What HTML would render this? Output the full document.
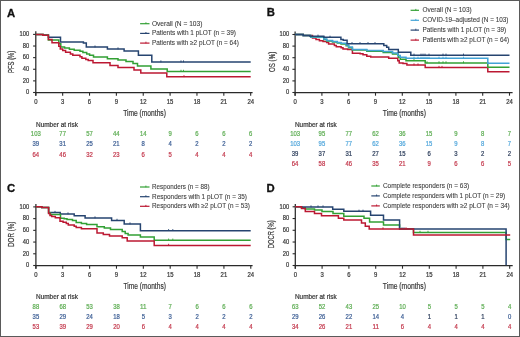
<!DOCTYPE html><html><head><meta charset="utf-8"><style>html,body{margin:0;padding:0;background:#fff;}svg{display:block;will-change:transform;}</style></head><body>
<svg width="520" height="337" viewBox="0 0 520 337" font-family='"Liberation Sans", sans-serif'>
<rect x="0" y="0" width="520" height="337" fill="#fff"/>
<text x="6.90" y="16.50" font-size="11.3" fill="#111" text-anchor="start" font-weight="bold" stroke="#111" stroke-width="0.3">A</text>
<path d="M35.80,31.20V95.70M35.80,92.50H252.60" stroke="#2a2a2a" stroke-width="1.25" fill="none"/>
<path d="M33.10,92.50H35.80" stroke="#2a2a2a" stroke-width="1.1"/>
<text x="29.20" y="94.30" font-size="6.4" fill="#3a3a3a" text-anchor="end" font-weight="normal" textLength="3.2" lengthAdjust="spacingAndGlyphs" stroke="#3a3a3a" stroke-width="0.22">0</text>
<path d="M33.10,80.88H35.80" stroke="#2a2a2a" stroke-width="1.1"/>
<text x="29.20" y="82.68" font-size="6.4" fill="#3a3a3a" text-anchor="end" font-weight="normal" textLength="6.4" lengthAdjust="spacingAndGlyphs" stroke="#3a3a3a" stroke-width="0.22">20</text>
<path d="M33.10,69.26H35.80" stroke="#2a2a2a" stroke-width="1.1"/>
<text x="29.20" y="71.06" font-size="6.4" fill="#3a3a3a" text-anchor="end" font-weight="normal" textLength="6.4" lengthAdjust="spacingAndGlyphs" stroke="#3a3a3a" stroke-width="0.22">40</text>
<path d="M33.10,57.64H35.80" stroke="#2a2a2a" stroke-width="1.1"/>
<text x="29.20" y="59.44" font-size="6.4" fill="#3a3a3a" text-anchor="end" font-weight="normal" textLength="6.4" lengthAdjust="spacingAndGlyphs" stroke="#3a3a3a" stroke-width="0.22">60</text>
<path d="M33.10,46.02H35.80" stroke="#2a2a2a" stroke-width="1.1"/>
<text x="29.20" y="47.82" font-size="6.4" fill="#3a3a3a" text-anchor="end" font-weight="normal" textLength="6.4" lengthAdjust="spacingAndGlyphs" stroke="#3a3a3a" stroke-width="0.22">80</text>
<path d="M33.10,34.40H35.80" stroke="#2a2a2a" stroke-width="1.1"/>
<text x="29.20" y="36.20" font-size="6.4" fill="#3a3a3a" text-anchor="end" font-weight="normal" textLength="9.600000000000001" lengthAdjust="spacingAndGlyphs" stroke="#3a3a3a" stroke-width="0.22">100</text>
<path d="M35.80,92.50V95.70" stroke="#2a2a2a" stroke-width="1.1"/>
<text x="35.80" y="104.00" font-size="6.4" fill="#3a3a3a" text-anchor="middle" font-weight="normal" textLength="3.3" lengthAdjust="spacingAndGlyphs" stroke="#3a3a3a" stroke-width="0.22">0</text>
<path d="M62.66,92.50V95.70" stroke="#2a2a2a" stroke-width="1.1"/>
<text x="62.66" y="104.00" font-size="6.4" fill="#3a3a3a" text-anchor="middle" font-weight="normal" textLength="3.3" lengthAdjust="spacingAndGlyphs" stroke="#3a3a3a" stroke-width="0.22">3</text>
<path d="M89.52,92.50V95.70" stroke="#2a2a2a" stroke-width="1.1"/>
<text x="89.52" y="104.00" font-size="6.4" fill="#3a3a3a" text-anchor="middle" font-weight="normal" textLength="3.3" lengthAdjust="spacingAndGlyphs" stroke="#3a3a3a" stroke-width="0.22">6</text>
<path d="M116.38,92.50V95.70" stroke="#2a2a2a" stroke-width="1.1"/>
<text x="116.38" y="104.00" font-size="6.4" fill="#3a3a3a" text-anchor="middle" font-weight="normal" textLength="3.3" lengthAdjust="spacingAndGlyphs" stroke="#3a3a3a" stroke-width="0.22">9</text>
<path d="M143.24,92.50V95.70" stroke="#2a2a2a" stroke-width="1.1"/>
<text x="143.24" y="104.00" font-size="6.4" fill="#3a3a3a" text-anchor="middle" font-weight="normal" textLength="6.6" lengthAdjust="spacingAndGlyphs" stroke="#3a3a3a" stroke-width="0.22">12</text>
<path d="M170.10,92.50V95.70" stroke="#2a2a2a" stroke-width="1.1"/>
<text x="170.10" y="104.00" font-size="6.4" fill="#3a3a3a" text-anchor="middle" font-weight="normal" textLength="6.6" lengthAdjust="spacingAndGlyphs" stroke="#3a3a3a" stroke-width="0.22">15</text>
<path d="M196.96,92.50V95.70" stroke="#2a2a2a" stroke-width="1.1"/>
<text x="196.96" y="104.00" font-size="6.4" fill="#3a3a3a" text-anchor="middle" font-weight="normal" textLength="6.6" lengthAdjust="spacingAndGlyphs" stroke="#3a3a3a" stroke-width="0.22">18</text>
<path d="M223.82,92.50V95.70" stroke="#2a2a2a" stroke-width="1.1"/>
<text x="223.82" y="104.00" font-size="6.4" fill="#3a3a3a" text-anchor="middle" font-weight="normal" textLength="6.6" lengthAdjust="spacingAndGlyphs" stroke="#3a3a3a" stroke-width="0.22">21</text>
<path d="M250.68,92.50V95.70" stroke="#2a2a2a" stroke-width="1.1"/>
<text x="250.68" y="104.00" font-size="6.4" fill="#3a3a3a" text-anchor="middle" font-weight="normal" textLength="6.6" lengthAdjust="spacingAndGlyphs" stroke="#3a3a3a" stroke-width="0.22">24</text>
<text x="144.55" y="115.90" font-size="8.9" fill="#3a3a3a" text-anchor="middle" font-weight="normal" textLength="42.7" lengthAdjust="spacingAndGlyphs" stroke="#3a3a3a" stroke-width="0.22">Time (months)</text>
<text transform="translate(14.30,61.85) rotate(-90)" x="0" y="0" font-size="8.8" fill="#3a3a3a" stroke="#3a3a3a" stroke-width="0.22" text-anchor="middle" textLength="22.3" lengthAdjust="spacingAndGlyphs">PFS (%)</text>
<path d="M140.10,23.70H149.50" stroke="#32a034" stroke-width="1.2"/>
<path d="M145.93,22.30V24.00" stroke="#32a034" stroke-width="0.9"/>
<text x="151.90" y="25.50" font-size="6.5" fill="#3a3a3a" text-anchor="start" font-weight="normal" textLength="50.5" lengthAdjust="spacingAndGlyphs" stroke="#3a3a3a" stroke-width="0.08">Overall (N = 103)</text>
<path d="M140.10,33.40H149.50" stroke="#264470" stroke-width="1.2"/>
<path d="M145.93,32.00V33.70" stroke="#264470" stroke-width="0.9"/>
<text x="151.90" y="35.20" font-size="6.5" fill="#3a3a3a" text-anchor="start" font-weight="normal" textLength="84.0" lengthAdjust="spacingAndGlyphs" stroke="#3a3a3a" stroke-width="0.08">Patients with 1 pLOT (n = 39)</text>
<path d="M140.10,43.10H149.50" stroke="#bc1832" stroke-width="1.2"/>
<path d="M145.93,41.70V43.40" stroke="#bc1832" stroke-width="0.9"/>
<text x="151.90" y="44.90" font-size="6.5" fill="#3a3a3a" text-anchor="start" font-weight="normal" textLength="87.0" lengthAdjust="spacingAndGlyphs" stroke="#3a3a3a" stroke-width="0.08">Patients with ≥2 pLOT (n = 64)</text>
<path d="M35.80,34.40H43.00V35.00H48.40V37.20H60.50V42.00H83.40V43.00H86.30V47.10H107.40V49.00H124.10V51.00H138.40V55.30H151.80V62.00H250.70" fill="none" stroke="#264470" stroke-width="1.5" stroke-linejoin="miter"/>
<path d="M95.00,45.50V47.40" stroke="#264470" stroke-width="0.9"/>
<path d="M118.00,47.40V49.30" stroke="#264470" stroke-width="0.9"/>
<path d="M160.90,60.40V62.30" stroke="#264470" stroke-width="0.9"/>
<path d="M181.00,60.40V62.30" stroke="#264470" stroke-width="0.9"/>
<path d="M183.50,60.40V62.30" stroke="#264470" stroke-width="0.9"/>
<path d="M35.80,34.40H43.00V35.20H48.40V40.00H58.80V43.80H60.80V47.10H64.60V48.10H69.40V49.30H74.20V50.30H80.00V51.30H82.90V52.40H86.70V53.90H89.60V55.30H93.50V57.00H107.40V58.70H118.00V60.10H126.00V61.40H133.00V63.60H137.50V66.10H150.90V68.90H167.20V71.40H250.70" fill="none" stroke="#32a034" stroke-width="1.5" stroke-linejoin="miter"/>
<path d="M181.00,69.80V71.70" stroke="#32a034" stroke-width="0.9"/>
<path d="M183.50,69.80V71.70" stroke="#32a034" stroke-width="0.9"/>
<path d="M35.80,34.40H43.00V35.20H48.40V39.40H52.00V42.70H58.80V46.20H60.30V49.10H62.70V50.50H65.60V52.20H70.40V53.90H72.80V55.30H80.00V56.80H81.90V58.20H85.80V59.60H88.20V60.60H93.00V62.80H110.00V65.40H118.00V67.40H134.00V70.10H140.80V72.90H166.80V76.80H250.70" fill="none" stroke="#bc1832" stroke-width="1.5" stroke-linejoin="miter"/>
<path d="M184.00,75.20V77.10" stroke="#bc1832" stroke-width="0.9"/>
<text x="36.00" y="126.80" font-size="6.6" fill="#3a3a3a" text-anchor="start" font-weight="normal" textLength="41.900000000000006" lengthAdjust="spacingAndGlyphs" stroke="#3a3a3a" stroke-width="0.22">Number at risk</text>
<text x="35.80" y="136.40" font-size="6.6" fill="#5fae55" text-anchor="middle" font-weight="normal" textLength="9.899999999999999" lengthAdjust="spacingAndGlyphs" stroke="#5fae55" stroke-width="0.22">103</text>
<text x="62.66" y="136.40" font-size="6.6" fill="#5fae55" text-anchor="middle" font-weight="normal" textLength="6.6" lengthAdjust="spacingAndGlyphs" stroke="#5fae55" stroke-width="0.22">77</text>
<text x="89.52" y="136.40" font-size="6.6" fill="#5fae55" text-anchor="middle" font-weight="normal" textLength="6.6" lengthAdjust="spacingAndGlyphs" stroke="#5fae55" stroke-width="0.22">57</text>
<text x="116.38" y="136.40" font-size="6.6" fill="#5fae55" text-anchor="middle" font-weight="normal" textLength="6.6" lengthAdjust="spacingAndGlyphs" stroke="#5fae55" stroke-width="0.22">44</text>
<text x="143.24" y="136.40" font-size="6.6" fill="#5fae55" text-anchor="middle" font-weight="normal" textLength="6.6" lengthAdjust="spacingAndGlyphs" stroke="#5fae55" stroke-width="0.22">14</text>
<text x="170.10" y="136.40" font-size="6.6" fill="#5fae55" text-anchor="middle" font-weight="normal" textLength="3.3" lengthAdjust="spacingAndGlyphs" stroke="#5fae55" stroke-width="0.22">9</text>
<text x="196.96" y="136.40" font-size="6.6" fill="#5fae55" text-anchor="middle" font-weight="normal" textLength="3.3" lengthAdjust="spacingAndGlyphs" stroke="#5fae55" stroke-width="0.22">6</text>
<text x="223.82" y="136.40" font-size="6.6" fill="#5fae55" text-anchor="middle" font-weight="normal" textLength="3.3" lengthAdjust="spacingAndGlyphs" stroke="#5fae55" stroke-width="0.22">6</text>
<text x="250.68" y="136.40" font-size="6.6" fill="#5fae55" text-anchor="middle" font-weight="normal" textLength="3.3" lengthAdjust="spacingAndGlyphs" stroke="#5fae55" stroke-width="0.22">6</text>
<text x="35.80" y="146.40" font-size="6.6" fill="#3d5f95" text-anchor="middle" font-weight="normal" textLength="6.6" lengthAdjust="spacingAndGlyphs" stroke="#3d5f95" stroke-width="0.22">39</text>
<text x="62.66" y="146.40" font-size="6.6" fill="#3d5f95" text-anchor="middle" font-weight="normal" textLength="6.6" lengthAdjust="spacingAndGlyphs" stroke="#3d5f95" stroke-width="0.22">31</text>
<text x="89.52" y="146.40" font-size="6.6" fill="#3d5f95" text-anchor="middle" font-weight="normal" textLength="6.6" lengthAdjust="spacingAndGlyphs" stroke="#3d5f95" stroke-width="0.22">25</text>
<text x="116.38" y="146.40" font-size="6.6" fill="#3d5f95" text-anchor="middle" font-weight="normal" textLength="6.6" lengthAdjust="spacingAndGlyphs" stroke="#3d5f95" stroke-width="0.22">21</text>
<text x="143.24" y="146.40" font-size="6.6" fill="#3d5f95" text-anchor="middle" font-weight="normal" textLength="3.3" lengthAdjust="spacingAndGlyphs" stroke="#3d5f95" stroke-width="0.22">8</text>
<text x="170.10" y="146.40" font-size="6.6" fill="#3d5f95" text-anchor="middle" font-weight="normal" textLength="3.3" lengthAdjust="spacingAndGlyphs" stroke="#3d5f95" stroke-width="0.22">4</text>
<text x="196.96" y="146.40" font-size="6.6" fill="#3d5f95" text-anchor="middle" font-weight="normal" textLength="3.3" lengthAdjust="spacingAndGlyphs" stroke="#3d5f95" stroke-width="0.22">2</text>
<text x="223.82" y="146.40" font-size="6.6" fill="#3d5f95" text-anchor="middle" font-weight="normal" textLength="3.3" lengthAdjust="spacingAndGlyphs" stroke="#3d5f95" stroke-width="0.22">2</text>
<text x="250.68" y="146.40" font-size="6.6" fill="#3d5f95" text-anchor="middle" font-weight="normal" textLength="3.3" lengthAdjust="spacingAndGlyphs" stroke="#3d5f95" stroke-width="0.22">2</text>
<text x="35.80" y="156.60" font-size="6.6" fill="#c43a4e" text-anchor="middle" font-weight="normal" textLength="6.6" lengthAdjust="spacingAndGlyphs" stroke="#c43a4e" stroke-width="0.22">64</text>
<text x="62.66" y="156.60" font-size="6.6" fill="#c43a4e" text-anchor="middle" font-weight="normal" textLength="6.6" lengthAdjust="spacingAndGlyphs" stroke="#c43a4e" stroke-width="0.22">46</text>
<text x="89.52" y="156.60" font-size="6.6" fill="#c43a4e" text-anchor="middle" font-weight="normal" textLength="6.6" lengthAdjust="spacingAndGlyphs" stroke="#c43a4e" stroke-width="0.22">32</text>
<text x="116.38" y="156.60" font-size="6.6" fill="#c43a4e" text-anchor="middle" font-weight="normal" textLength="6.6" lengthAdjust="spacingAndGlyphs" stroke="#c43a4e" stroke-width="0.22">23</text>
<text x="143.24" y="156.60" font-size="6.6" fill="#c43a4e" text-anchor="middle" font-weight="normal" textLength="3.3" lengthAdjust="spacingAndGlyphs" stroke="#c43a4e" stroke-width="0.22">6</text>
<text x="170.10" y="156.60" font-size="6.6" fill="#c43a4e" text-anchor="middle" font-weight="normal" textLength="3.3" lengthAdjust="spacingAndGlyphs" stroke="#c43a4e" stroke-width="0.22">5</text>
<text x="196.96" y="156.60" font-size="6.6" fill="#c43a4e" text-anchor="middle" font-weight="normal" textLength="3.3" lengthAdjust="spacingAndGlyphs" stroke="#c43a4e" stroke-width="0.22">4</text>
<text x="223.82" y="156.60" font-size="6.6" fill="#c43a4e" text-anchor="middle" font-weight="normal" textLength="3.3" lengthAdjust="spacingAndGlyphs" stroke="#c43a4e" stroke-width="0.22">4</text>
<text x="250.68" y="156.60" font-size="6.6" fill="#c43a4e" text-anchor="middle" font-weight="normal" textLength="3.3" lengthAdjust="spacingAndGlyphs" stroke="#c43a4e" stroke-width="0.22">4</text>
<text x="266.70" y="16.10" font-size="11.3" fill="#111" text-anchor="start" font-weight="bold" stroke="#111" stroke-width="0.3">B</text>
<path d="M295.10,31.60V95.70M295.10,92.50H512.60" stroke="#2a2a2a" stroke-width="1.25" fill="none"/>
<path d="M292.40,92.50H295.10" stroke="#2a2a2a" stroke-width="1.1"/>
<text x="289.10" y="94.30" font-size="6.4" fill="#3a3a3a" text-anchor="end" font-weight="normal" textLength="3.2" lengthAdjust="spacingAndGlyphs" stroke="#3a3a3a" stroke-width="0.22">0</text>
<path d="M292.40,80.90H295.10" stroke="#2a2a2a" stroke-width="1.1"/>
<text x="289.10" y="82.70" font-size="6.4" fill="#3a3a3a" text-anchor="end" font-weight="normal" textLength="6.4" lengthAdjust="spacingAndGlyphs" stroke="#3a3a3a" stroke-width="0.22">20</text>
<path d="M292.40,69.30H295.10" stroke="#2a2a2a" stroke-width="1.1"/>
<text x="289.10" y="71.10" font-size="6.4" fill="#3a3a3a" text-anchor="end" font-weight="normal" textLength="6.4" lengthAdjust="spacingAndGlyphs" stroke="#3a3a3a" stroke-width="0.22">40</text>
<path d="M292.40,57.70H295.10" stroke="#2a2a2a" stroke-width="1.1"/>
<text x="289.10" y="59.50" font-size="6.4" fill="#3a3a3a" text-anchor="end" font-weight="normal" textLength="6.4" lengthAdjust="spacingAndGlyphs" stroke="#3a3a3a" stroke-width="0.22">60</text>
<path d="M292.40,46.10H295.10" stroke="#2a2a2a" stroke-width="1.1"/>
<text x="289.10" y="47.90" font-size="6.4" fill="#3a3a3a" text-anchor="end" font-weight="normal" textLength="6.4" lengthAdjust="spacingAndGlyphs" stroke="#3a3a3a" stroke-width="0.22">80</text>
<path d="M292.40,34.50H295.10" stroke="#2a2a2a" stroke-width="1.1"/>
<text x="289.10" y="36.30" font-size="6.4" fill="#3a3a3a" text-anchor="end" font-weight="normal" textLength="9.600000000000001" lengthAdjust="spacingAndGlyphs" stroke="#3a3a3a" stroke-width="0.22">100</text>
<path d="M295.10,92.50V95.70" stroke="#2a2a2a" stroke-width="1.1"/>
<text x="295.10" y="104.00" font-size="6.4" fill="#3a3a3a" text-anchor="middle" font-weight="normal" textLength="3.3" lengthAdjust="spacingAndGlyphs" stroke="#3a3a3a" stroke-width="0.22">0</text>
<path d="M321.90,92.50V95.70" stroke="#2a2a2a" stroke-width="1.1"/>
<text x="321.90" y="104.00" font-size="6.4" fill="#3a3a3a" text-anchor="middle" font-weight="normal" textLength="3.3" lengthAdjust="spacingAndGlyphs" stroke="#3a3a3a" stroke-width="0.22">3</text>
<path d="M348.70,92.50V95.70" stroke="#2a2a2a" stroke-width="1.1"/>
<text x="348.70" y="104.00" font-size="6.4" fill="#3a3a3a" text-anchor="middle" font-weight="normal" textLength="3.3" lengthAdjust="spacingAndGlyphs" stroke="#3a3a3a" stroke-width="0.22">6</text>
<path d="M375.50,92.50V95.70" stroke="#2a2a2a" stroke-width="1.1"/>
<text x="375.50" y="104.00" font-size="6.4" fill="#3a3a3a" text-anchor="middle" font-weight="normal" textLength="3.3" lengthAdjust="spacingAndGlyphs" stroke="#3a3a3a" stroke-width="0.22">9</text>
<path d="M402.30,92.50V95.70" stroke="#2a2a2a" stroke-width="1.1"/>
<text x="402.30" y="104.00" font-size="6.4" fill="#3a3a3a" text-anchor="middle" font-weight="normal" textLength="6.6" lengthAdjust="spacingAndGlyphs" stroke="#3a3a3a" stroke-width="0.22">12</text>
<path d="M429.10,92.50V95.70" stroke="#2a2a2a" stroke-width="1.1"/>
<text x="429.10" y="104.00" font-size="6.4" fill="#3a3a3a" text-anchor="middle" font-weight="normal" textLength="6.6" lengthAdjust="spacingAndGlyphs" stroke="#3a3a3a" stroke-width="0.22">15</text>
<path d="M455.90,92.50V95.70" stroke="#2a2a2a" stroke-width="1.1"/>
<text x="455.90" y="104.00" font-size="6.4" fill="#3a3a3a" text-anchor="middle" font-weight="normal" textLength="6.6" lengthAdjust="spacingAndGlyphs" stroke="#3a3a3a" stroke-width="0.22">18</text>
<path d="M482.70,92.50V95.70" stroke="#2a2a2a" stroke-width="1.1"/>
<text x="482.70" y="104.00" font-size="6.4" fill="#3a3a3a" text-anchor="middle" font-weight="normal" textLength="6.6" lengthAdjust="spacingAndGlyphs" stroke="#3a3a3a" stroke-width="0.22">21</text>
<path d="M509.50,92.50V95.70" stroke="#2a2a2a" stroke-width="1.1"/>
<text x="509.50" y="104.00" font-size="6.4" fill="#3a3a3a" text-anchor="middle" font-weight="normal" textLength="6.6" lengthAdjust="spacingAndGlyphs" stroke="#3a3a3a" stroke-width="0.22">24</text>
<text x="404.35" y="116.20" font-size="8.9" fill="#3a3a3a" text-anchor="middle" font-weight="normal" textLength="43.099999999999966" lengthAdjust="spacingAndGlyphs" stroke="#3a3a3a" stroke-width="0.22">Time (months)</text>
<text transform="translate(274.50,61.90) rotate(-90)" x="0" y="0" font-size="8.8" fill="#3a3a3a" stroke="#3a3a3a" stroke-width="0.22" text-anchor="middle" textLength="20.3" lengthAdjust="spacingAndGlyphs">OS (%)</text>
<path d="M410.60,10.30H419.00" stroke="#32a034" stroke-width="1.2"/>
<path d="M415.81,8.90V10.60" stroke="#32a034" stroke-width="0.9"/>
<text x="422.50" y="12.10" font-size="6.5" fill="#3a3a3a" text-anchor="start" font-weight="normal" textLength="49.1" lengthAdjust="spacingAndGlyphs" stroke="#3a3a3a" stroke-width="0.08">Overall (N = 103)</text>
<path d="M410.60,20.30H419.00" stroke="#42a3d6" stroke-width="1.2"/>
<path d="M415.81,18.90V20.60" stroke="#42a3d6" stroke-width="0.9"/>
<text x="422.50" y="22.10" font-size="6.5" fill="#3a3a3a" text-anchor="start" font-weight="normal" textLength="86.0" lengthAdjust="spacingAndGlyphs" stroke="#3a3a3a" stroke-width="0.08">COVID-19–adjusted (N = 103)</text>
<path d="M410.60,30.10H419.00" stroke="#264470" stroke-width="1.2"/>
<path d="M415.81,28.70V30.40" stroke="#264470" stroke-width="0.9"/>
<text x="422.50" y="31.90" font-size="6.5" fill="#3a3a3a" text-anchor="start" font-weight="normal" textLength="83.7" lengthAdjust="spacingAndGlyphs" stroke="#3a3a3a" stroke-width="0.08">Patients with 1 pLOT (n = 39)</text>
<path d="M410.60,40.10H419.00" stroke="#bc1832" stroke-width="1.2"/>
<path d="M415.81,38.70V40.40" stroke="#bc1832" stroke-width="0.9"/>
<text x="422.50" y="41.90" font-size="6.5" fill="#3a3a3a" text-anchor="start" font-weight="normal" textLength="86.7" lengthAdjust="spacingAndGlyphs" stroke="#3a3a3a" stroke-width="0.08">Patients with ≥2 pLOT (n = 64)</text>
<path d="M295.10,34.50H303.20V35.50H312.50V38.10H316.00V39.50H319.40V40.70H323.00V41.50H326.70V42.50H328.60V43.90H334.40V45.40H336.30V46.80H341.10V47.80H343.00V49.00H347.60V49.50H352.40V53.30H360.10V53.80H363.00V54.80H366.80V56.20H370.70V57.00H388.70V58.30H397.80V60.70H399.20V63.10H403.00V63.60H406.90V65.00H425.20V67.50H487.80V71.70H509.50" fill="none" stroke="#bc1832" stroke-width="1.5" stroke-linejoin="miter"/>
<path d="M414.00,63.40V65.30" stroke="#bc1832" stroke-width="0.9"/>
<path d="M418.00,63.40V65.30" stroke="#bc1832" stroke-width="0.9"/>
<path d="M439.00,65.90V67.80" stroke="#bc1832" stroke-width="0.9"/>
<path d="M442.00,65.90V67.80" stroke="#bc1832" stroke-width="0.9"/>
<path d="M295.10,34.50H303.20V35.50H310.70V37.20H323.80V39.60H326.70V41.10H332.50V42.00H337.30V43.00H341.00V44.00H346.20V45.80H348.60V47.80H352.40V50.00H366.80V51.20H383.20V52.50H392.50V54.00H398.30V57.30H400.20V59.20H406.00V60.70H425.20V62.90H487.80V67.20H509.50" fill="none" stroke="#32a034" stroke-width="1.5" stroke-linejoin="miter"/>
<path d="M414.00,59.10V61.00" stroke="#32a034" stroke-width="0.9"/>
<path d="M427.00,61.30V63.20" stroke="#32a034" stroke-width="0.9"/>
<path d="M439.00,61.30V63.20" stroke="#32a034" stroke-width="0.9"/>
<path d="M443.00,61.30V63.20" stroke="#32a034" stroke-width="0.9"/>
<path d="M446.00,61.30V63.20" stroke="#32a034" stroke-width="0.9"/>
<path d="M463.50,61.30V63.20" stroke="#32a034" stroke-width="0.9"/>
<path d="M295.10,34.50H303.20V35.50H310.70V36.90H323.80V39.10H326.70V40.60H332.50V41.50H337.30V42.50H341.00V43.30H346.20V45.10H348.60V47.10H352.40V49.50H366.80V50.40H383.20V51.50H392.50V53.00H397.80V55.40H400.20V57.30H406.00V58.30H487.80V63.20H509.50" fill="none" stroke="#42a3d6" stroke-width="1.5" stroke-linejoin="miter"/>
<path d="M414.00,56.70V58.60" stroke="#42a3d6" stroke-width="0.9"/>
<path d="M418.00,56.70V58.60" stroke="#42a3d6" stroke-width="0.9"/>
<path d="M421.00,56.70V58.60" stroke="#42a3d6" stroke-width="0.9"/>
<path d="M423.00,56.70V58.60" stroke="#42a3d6" stroke-width="0.9"/>
<path d="M425.00,56.70V58.60" stroke="#42a3d6" stroke-width="0.9"/>
<path d="M427.00,56.70V58.60" stroke="#42a3d6" stroke-width="0.9"/>
<path d="M429.00,56.70V58.60" stroke="#42a3d6" stroke-width="0.9"/>
<path d="M439.00,56.70V58.60" stroke="#42a3d6" stroke-width="0.9"/>
<path d="M443.00,56.70V58.60" stroke="#42a3d6" stroke-width="0.9"/>
<path d="M446.00,56.70V58.60" stroke="#42a3d6" stroke-width="0.9"/>
<path d="M463.50,56.70V58.60" stroke="#42a3d6" stroke-width="0.9"/>
<path d="M295.10,34.50H303.20V35.50H310.00V36.20H323.80V37.30H340.90V39.40H343.30V40.30H347.10V43.70H383.80V45.50H386.70V47.20H388.70V49.60H398.30V52.30H410.80V55.20H509.50" fill="none" stroke="#264470" stroke-width="1.5" stroke-linejoin="miter"/>
<path d="M318.00,34.60V36.50" stroke="#264470" stroke-width="0.9"/>
<path d="M330.00,35.70V37.60" stroke="#264470" stroke-width="0.9"/>
<path d="M352.00,42.10V44.00" stroke="#264470" stroke-width="0.9"/>
<path d="M360.00,42.10V44.00" stroke="#264470" stroke-width="0.9"/>
<path d="M368.00,42.10V44.00" stroke="#264470" stroke-width="0.9"/>
<path d="M375.00,42.10V44.00" stroke="#264470" stroke-width="0.9"/>
<path d="M414.00,53.60V55.50" stroke="#264470" stroke-width="0.9"/>
<path d="M421.00,53.60V55.50" stroke="#264470" stroke-width="0.9"/>
<path d="M423.00,53.60V55.50" stroke="#264470" stroke-width="0.9"/>
<path d="M425.00,53.60V55.50" stroke="#264470" stroke-width="0.9"/>
<path d="M429.00,53.60V55.50" stroke="#264470" stroke-width="0.9"/>
<path d="M443.00,53.60V55.50" stroke="#264470" stroke-width="0.9"/>
<path d="M446.00,53.60V55.50" stroke="#264470" stroke-width="0.9"/>
<path d="M463.50,53.60V55.50" stroke="#264470" stroke-width="0.9"/>
<text x="295.00" y="126.80" font-size="6.6" fill="#3a3a3a" text-anchor="start" font-weight="normal" textLength="41.60000000000002" lengthAdjust="spacingAndGlyphs" stroke="#3a3a3a" stroke-width="0.22">Number at risk</text>
<text x="295.10" y="136.40" font-size="6.6" fill="#5fae55" text-anchor="middle" font-weight="normal" textLength="9.899999999999999" lengthAdjust="spacingAndGlyphs" stroke="#5fae55" stroke-width="0.22">103</text>
<text x="321.90" y="136.40" font-size="6.6" fill="#5fae55" text-anchor="middle" font-weight="normal" textLength="6.6" lengthAdjust="spacingAndGlyphs" stroke="#5fae55" stroke-width="0.22">95</text>
<text x="348.70" y="136.40" font-size="6.6" fill="#5fae55" text-anchor="middle" font-weight="normal" textLength="6.6" lengthAdjust="spacingAndGlyphs" stroke="#5fae55" stroke-width="0.22">77</text>
<text x="375.50" y="136.40" font-size="6.6" fill="#5fae55" text-anchor="middle" font-weight="normal" textLength="6.6" lengthAdjust="spacingAndGlyphs" stroke="#5fae55" stroke-width="0.22">62</text>
<text x="402.30" y="136.40" font-size="6.6" fill="#5fae55" text-anchor="middle" font-weight="normal" textLength="6.6" lengthAdjust="spacingAndGlyphs" stroke="#5fae55" stroke-width="0.22">36</text>
<text x="429.10" y="136.40" font-size="6.6" fill="#5fae55" text-anchor="middle" font-weight="normal" textLength="6.6" lengthAdjust="spacingAndGlyphs" stroke="#5fae55" stroke-width="0.22">15</text>
<text x="455.90" y="136.40" font-size="6.6" fill="#5fae55" text-anchor="middle" font-weight="normal" textLength="3.3" lengthAdjust="spacingAndGlyphs" stroke="#5fae55" stroke-width="0.22">9</text>
<text x="482.70" y="136.40" font-size="6.6" fill="#5fae55" text-anchor="middle" font-weight="normal" textLength="3.3" lengthAdjust="spacingAndGlyphs" stroke="#5fae55" stroke-width="0.22">8</text>
<text x="509.50" y="136.40" font-size="6.6" fill="#5fae55" text-anchor="middle" font-weight="normal" textLength="3.3" lengthAdjust="spacingAndGlyphs" stroke="#5fae55" stroke-width="0.22">7</text>
<text x="295.10" y="146.30" font-size="6.6" fill="#54a8dc" text-anchor="middle" font-weight="normal" textLength="9.899999999999999" lengthAdjust="spacingAndGlyphs" stroke="#54a8dc" stroke-width="0.22">103</text>
<text x="321.90" y="146.30" font-size="6.6" fill="#54a8dc" text-anchor="middle" font-weight="normal" textLength="6.6" lengthAdjust="spacingAndGlyphs" stroke="#54a8dc" stroke-width="0.22">95</text>
<text x="348.70" y="146.30" font-size="6.6" fill="#54a8dc" text-anchor="middle" font-weight="normal" textLength="6.6" lengthAdjust="spacingAndGlyphs" stroke="#54a8dc" stroke-width="0.22">77</text>
<text x="375.50" y="146.30" font-size="6.6" fill="#54a8dc" text-anchor="middle" font-weight="normal" textLength="6.6" lengthAdjust="spacingAndGlyphs" stroke="#54a8dc" stroke-width="0.22">62</text>
<text x="402.30" y="146.30" font-size="6.6" fill="#54a8dc" text-anchor="middle" font-weight="normal" textLength="6.6" lengthAdjust="spacingAndGlyphs" stroke="#54a8dc" stroke-width="0.22">36</text>
<text x="429.10" y="146.30" font-size="6.6" fill="#54a8dc" text-anchor="middle" font-weight="normal" textLength="6.6" lengthAdjust="spacingAndGlyphs" stroke="#54a8dc" stroke-width="0.22">15</text>
<text x="455.90" y="146.30" font-size="6.6" fill="#54a8dc" text-anchor="middle" font-weight="normal" textLength="3.3" lengthAdjust="spacingAndGlyphs" stroke="#54a8dc" stroke-width="0.22">9</text>
<text x="482.70" y="146.30" font-size="6.6" fill="#54a8dc" text-anchor="middle" font-weight="normal" textLength="3.3" lengthAdjust="spacingAndGlyphs" stroke="#54a8dc" stroke-width="0.22">8</text>
<text x="509.50" y="146.30" font-size="6.6" fill="#54a8dc" text-anchor="middle" font-weight="normal" textLength="3.3" lengthAdjust="spacingAndGlyphs" stroke="#54a8dc" stroke-width="0.22">7</text>
<text x="295.10" y="156.20" font-size="6.6" fill="#2d3e5c" text-anchor="middle" font-weight="normal" textLength="6.6" lengthAdjust="spacingAndGlyphs" stroke="#2d3e5c" stroke-width="0.22">39</text>
<text x="321.90" y="156.20" font-size="6.6" fill="#2d3e5c" text-anchor="middle" font-weight="normal" textLength="6.6" lengthAdjust="spacingAndGlyphs" stroke="#2d3e5c" stroke-width="0.22">37</text>
<text x="348.70" y="156.20" font-size="6.6" fill="#2d3e5c" text-anchor="middle" font-weight="normal" textLength="6.6" lengthAdjust="spacingAndGlyphs" stroke="#2d3e5c" stroke-width="0.22">31</text>
<text x="375.50" y="156.20" font-size="6.6" fill="#2d3e5c" text-anchor="middle" font-weight="normal" textLength="6.6" lengthAdjust="spacingAndGlyphs" stroke="#2d3e5c" stroke-width="0.22">27</text>
<text x="402.30" y="156.20" font-size="6.6" fill="#2d3e5c" text-anchor="middle" font-weight="normal" textLength="6.6" lengthAdjust="spacingAndGlyphs" stroke="#2d3e5c" stroke-width="0.22">15</text>
<text x="429.10" y="156.20" font-size="6.6" fill="#2d3e5c" text-anchor="middle" font-weight="normal" textLength="3.3" lengthAdjust="spacingAndGlyphs" stroke="#2d3e5c" stroke-width="0.22">6</text>
<text x="455.90" y="156.20" font-size="6.6" fill="#2d3e5c" text-anchor="middle" font-weight="normal" textLength="3.3" lengthAdjust="spacingAndGlyphs" stroke="#2d3e5c" stroke-width="0.22">3</text>
<text x="482.70" y="156.20" font-size="6.6" fill="#2d3e5c" text-anchor="middle" font-weight="normal" textLength="3.3" lengthAdjust="spacingAndGlyphs" stroke="#2d3e5c" stroke-width="0.22">2</text>
<text x="509.50" y="156.20" font-size="6.6" fill="#2d3e5c" text-anchor="middle" font-weight="normal" textLength="3.3" lengthAdjust="spacingAndGlyphs" stroke="#2d3e5c" stroke-width="0.22">2</text>
<text x="295.10" y="166.10" font-size="6.6" fill="#c43a4e" text-anchor="middle" font-weight="normal" textLength="6.6" lengthAdjust="spacingAndGlyphs" stroke="#c43a4e" stroke-width="0.22">64</text>
<text x="321.90" y="166.10" font-size="6.6" fill="#c43a4e" text-anchor="middle" font-weight="normal" textLength="6.6" lengthAdjust="spacingAndGlyphs" stroke="#c43a4e" stroke-width="0.22">58</text>
<text x="348.70" y="166.10" font-size="6.6" fill="#c43a4e" text-anchor="middle" font-weight="normal" textLength="6.6" lengthAdjust="spacingAndGlyphs" stroke="#c43a4e" stroke-width="0.22">46</text>
<text x="375.50" y="166.10" font-size="6.6" fill="#c43a4e" text-anchor="middle" font-weight="normal" textLength="6.6" lengthAdjust="spacingAndGlyphs" stroke="#c43a4e" stroke-width="0.22">35</text>
<text x="402.30" y="166.10" font-size="6.6" fill="#c43a4e" text-anchor="middle" font-weight="normal" textLength="6.6" lengthAdjust="spacingAndGlyphs" stroke="#c43a4e" stroke-width="0.22">21</text>
<text x="429.10" y="166.10" font-size="6.6" fill="#c43a4e" text-anchor="middle" font-weight="normal" textLength="3.3" lengthAdjust="spacingAndGlyphs" stroke="#c43a4e" stroke-width="0.22">9</text>
<text x="455.90" y="166.10" font-size="6.6" fill="#c43a4e" text-anchor="middle" font-weight="normal" textLength="3.3" lengthAdjust="spacingAndGlyphs" stroke="#c43a4e" stroke-width="0.22">6</text>
<text x="482.70" y="166.10" font-size="6.6" fill="#c43a4e" text-anchor="middle" font-weight="normal" textLength="3.3" lengthAdjust="spacingAndGlyphs" stroke="#c43a4e" stroke-width="0.22">6</text>
<text x="509.50" y="166.10" font-size="6.6" fill="#c43a4e" text-anchor="middle" font-weight="normal" textLength="3.3" lengthAdjust="spacingAndGlyphs" stroke="#c43a4e" stroke-width="0.22">5</text>
<text x="6.90" y="192.40" font-size="11.3" fill="#111" text-anchor="start" font-weight="bold" stroke="#111" stroke-width="0.3">C</text>
<path d="M35.90,204.00V268.70M35.90,265.50H252.60" stroke="#2a2a2a" stroke-width="1.25" fill="none"/>
<path d="M33.20,265.50H35.90" stroke="#2a2a2a" stroke-width="1.1"/>
<text x="29.20" y="267.30" font-size="6.4" fill="#3a3a3a" text-anchor="end" font-weight="normal" textLength="3.2" lengthAdjust="spacingAndGlyphs" stroke="#3a3a3a" stroke-width="0.22">0</text>
<path d="M33.20,253.78H35.90" stroke="#2a2a2a" stroke-width="1.1"/>
<text x="29.20" y="255.58" font-size="6.4" fill="#3a3a3a" text-anchor="end" font-weight="normal" textLength="6.4" lengthAdjust="spacingAndGlyphs" stroke="#3a3a3a" stroke-width="0.22">20</text>
<path d="M33.20,242.06H35.90" stroke="#2a2a2a" stroke-width="1.1"/>
<text x="29.20" y="243.86" font-size="6.4" fill="#3a3a3a" text-anchor="end" font-weight="normal" textLength="6.4" lengthAdjust="spacingAndGlyphs" stroke="#3a3a3a" stroke-width="0.22">40</text>
<path d="M33.20,230.34H35.90" stroke="#2a2a2a" stroke-width="1.1"/>
<text x="29.20" y="232.14" font-size="6.4" fill="#3a3a3a" text-anchor="end" font-weight="normal" textLength="6.4" lengthAdjust="spacingAndGlyphs" stroke="#3a3a3a" stroke-width="0.22">60</text>
<path d="M33.20,218.62H35.90" stroke="#2a2a2a" stroke-width="1.1"/>
<text x="29.20" y="220.42" font-size="6.4" fill="#3a3a3a" text-anchor="end" font-weight="normal" textLength="6.4" lengthAdjust="spacingAndGlyphs" stroke="#3a3a3a" stroke-width="0.22">80</text>
<path d="M33.20,206.90H35.90" stroke="#2a2a2a" stroke-width="1.1"/>
<text x="29.20" y="208.70" font-size="6.4" fill="#3a3a3a" text-anchor="end" font-weight="normal" textLength="9.600000000000001" lengthAdjust="spacingAndGlyphs" stroke="#3a3a3a" stroke-width="0.22">100</text>
<path d="M35.90,265.50V268.70" stroke="#2a2a2a" stroke-width="1.1"/>
<text x="35.90" y="277.20" font-size="6.4" fill="#3a3a3a" text-anchor="middle" font-weight="normal" textLength="3.3" lengthAdjust="spacingAndGlyphs" stroke="#3a3a3a" stroke-width="0.22">0</text>
<path d="M62.76,265.50V268.70" stroke="#2a2a2a" stroke-width="1.1"/>
<text x="62.76" y="277.20" font-size="6.4" fill="#3a3a3a" text-anchor="middle" font-weight="normal" textLength="3.3" lengthAdjust="spacingAndGlyphs" stroke="#3a3a3a" stroke-width="0.22">3</text>
<path d="M89.62,265.50V268.70" stroke="#2a2a2a" stroke-width="1.1"/>
<text x="89.62" y="277.20" font-size="6.4" fill="#3a3a3a" text-anchor="middle" font-weight="normal" textLength="3.3" lengthAdjust="spacingAndGlyphs" stroke="#3a3a3a" stroke-width="0.22">6</text>
<path d="M116.48,265.50V268.70" stroke="#2a2a2a" stroke-width="1.1"/>
<text x="116.48" y="277.20" font-size="6.4" fill="#3a3a3a" text-anchor="middle" font-weight="normal" textLength="3.3" lengthAdjust="spacingAndGlyphs" stroke="#3a3a3a" stroke-width="0.22">9</text>
<path d="M143.34,265.50V268.70" stroke="#2a2a2a" stroke-width="1.1"/>
<text x="143.34" y="277.20" font-size="6.4" fill="#3a3a3a" text-anchor="middle" font-weight="normal" textLength="6.6" lengthAdjust="spacingAndGlyphs" stroke="#3a3a3a" stroke-width="0.22">12</text>
<path d="M170.20,265.50V268.70" stroke="#2a2a2a" stroke-width="1.1"/>
<text x="170.20" y="277.20" font-size="6.4" fill="#3a3a3a" text-anchor="middle" font-weight="normal" textLength="6.6" lengthAdjust="spacingAndGlyphs" stroke="#3a3a3a" stroke-width="0.22">15</text>
<path d="M197.06,265.50V268.70" stroke="#2a2a2a" stroke-width="1.1"/>
<text x="197.06" y="277.20" font-size="6.4" fill="#3a3a3a" text-anchor="middle" font-weight="normal" textLength="6.6" lengthAdjust="spacingAndGlyphs" stroke="#3a3a3a" stroke-width="0.22">18</text>
<path d="M223.92,265.50V268.70" stroke="#2a2a2a" stroke-width="1.1"/>
<text x="223.92" y="277.20" font-size="6.4" fill="#3a3a3a" text-anchor="middle" font-weight="normal" textLength="6.6" lengthAdjust="spacingAndGlyphs" stroke="#3a3a3a" stroke-width="0.22">21</text>
<path d="M250.78,265.50V268.70" stroke="#2a2a2a" stroke-width="1.1"/>
<text x="250.78" y="277.20" font-size="6.4" fill="#3a3a3a" text-anchor="middle" font-weight="normal" textLength="6.6" lengthAdjust="spacingAndGlyphs" stroke="#3a3a3a" stroke-width="0.22">24</text>
<text x="144.70" y="288.90" font-size="8.9" fill="#3a3a3a" text-anchor="middle" font-weight="normal" textLength="42.400000000000006" lengthAdjust="spacingAndGlyphs" stroke="#3a3a3a" stroke-width="0.22">Time (months)</text>
<text transform="translate(14.20,234.30) rotate(-90)" x="0" y="0" font-size="8.8" fill="#3a3a3a" stroke="#3a3a3a" stroke-width="0.22" text-anchor="middle" textLength="25.5" lengthAdjust="spacingAndGlyphs">DOR (%)</text>
<path d="M140.00,187.00H149.50" stroke="#32a034" stroke-width="1.2"/>
<path d="M145.89,185.60V187.30" stroke="#32a034" stroke-width="0.9"/>
<text x="152.00" y="188.80" font-size="6.5" fill="#3a3a3a" text-anchor="start" font-weight="normal" textLength="57.5" lengthAdjust="spacingAndGlyphs" stroke="#3a3a3a" stroke-width="0.08">Responders (n = 88)</text>
<path d="M140.00,196.70H149.50" stroke="#264470" stroke-width="1.2"/>
<path d="M145.89,195.30V197.00" stroke="#264470" stroke-width="0.9"/>
<text x="152.00" y="198.50" font-size="6.5" fill="#3a3a3a" text-anchor="start" font-weight="normal" textLength="95.0" lengthAdjust="spacingAndGlyphs" stroke="#3a3a3a" stroke-width="0.08">Responders with 1 pLOT (n = 35)</text>
<path d="M140.00,206.30H149.50" stroke="#bc1832" stroke-width="1.2"/>
<path d="M145.89,204.90V206.60" stroke="#bc1832" stroke-width="0.9"/>
<text x="152.00" y="208.10" font-size="6.5" fill="#3a3a3a" text-anchor="start" font-weight="normal" textLength="98.0" lengthAdjust="spacingAndGlyphs" stroke="#3a3a3a" stroke-width="0.08">Responders with ≥2 pLOT (n = 53)</text>
<path d="M35.90,206.80H41.80V207.40H48.60V212.50H60.20V214.00H74.20V215.70H85.10V218.00H111.60V220.40H124.20V224.00H140.40V230.70H250.70" fill="none" stroke="#264470" stroke-width="1.5" stroke-linejoin="miter"/>
<path d="M55.00,210.90V212.80" stroke="#264470" stroke-width="0.9"/>
<path d="M68.00,212.40V214.30" stroke="#264470" stroke-width="0.9"/>
<path d="M95.00,216.40V218.30" stroke="#264470" stroke-width="0.9"/>
<path d="M117.00,218.80V220.70" stroke="#264470" stroke-width="0.9"/>
<path d="M130.00,222.40V224.30" stroke="#264470" stroke-width="0.9"/>
<path d="M168.60,229.10V231.00" stroke="#264470" stroke-width="0.9"/>
<path d="M172.80,229.10V231.00" stroke="#264470" stroke-width="0.9"/>
<path d="M35.90,206.80H41.80V207.40H48.60V213.00H50.50V214.50H60.50V218.20H64.20V218.80H67.00V219.50H72.50V220.50H76.20V222.50H81.40V223.50H86.60V224.50H97.00V226.80H104.30V228.10H110.50V229.40H122.20V231.60H125.20V233.60H128.10V235.00H140.40V237.00H154.20V240.20H250.70" fill="none" stroke="#32a034" stroke-width="1.5" stroke-linejoin="miter"/>
<path d="M168.60,238.60V240.50" stroke="#32a034" stroke-width="0.9"/>
<path d="M172.80,238.60V240.50" stroke="#32a034" stroke-width="0.9"/>
<path d="M35.90,206.80H41.80V207.40H48.60V213.50H50.00V215.50H51.70V216.60H55.30V217.70H60.00V221.30H63.10V222.30H66.30V223.40H68.30V225.00H74.20V226.30H76.20V227.40H81.40V228.70H97.00V232.90H103.30V234.60H109.50V236.00H122.20V237.70H127.20V241.00H154.20V245.40H250.70" fill="none" stroke="#bc1832" stroke-width="1.5" stroke-linejoin="miter"/>
<path d="M168.60,243.80V245.70" stroke="#bc1832" stroke-width="0.9"/>
<text x="36.00" y="299.00" font-size="6.6" fill="#3a3a3a" text-anchor="start" font-weight="normal" textLength="41.900000000000006" lengthAdjust="spacingAndGlyphs" stroke="#3a3a3a" stroke-width="0.22">Number at risk</text>
<text x="35.90" y="309.30" font-size="6.6" fill="#5fae55" text-anchor="middle" font-weight="normal" textLength="6.6" lengthAdjust="spacingAndGlyphs" stroke="#5fae55" stroke-width="0.22">88</text>
<text x="62.76" y="309.30" font-size="6.6" fill="#5fae55" text-anchor="middle" font-weight="normal" textLength="6.6" lengthAdjust="spacingAndGlyphs" stroke="#5fae55" stroke-width="0.22">68</text>
<text x="89.62" y="309.30" font-size="6.6" fill="#5fae55" text-anchor="middle" font-weight="normal" textLength="6.6" lengthAdjust="spacingAndGlyphs" stroke="#5fae55" stroke-width="0.22">53</text>
<text x="116.48" y="309.30" font-size="6.6" fill="#5fae55" text-anchor="middle" font-weight="normal" textLength="6.6" lengthAdjust="spacingAndGlyphs" stroke="#5fae55" stroke-width="0.22">38</text>
<text x="143.34" y="309.30" font-size="6.6" fill="#5fae55" text-anchor="middle" font-weight="normal" textLength="6.6" lengthAdjust="spacingAndGlyphs" stroke="#5fae55" stroke-width="0.22">11</text>
<text x="170.20" y="309.30" font-size="6.6" fill="#5fae55" text-anchor="middle" font-weight="normal" textLength="3.3" lengthAdjust="spacingAndGlyphs" stroke="#5fae55" stroke-width="0.22">7</text>
<text x="197.06" y="309.30" font-size="6.6" fill="#5fae55" text-anchor="middle" font-weight="normal" textLength="3.3" lengthAdjust="spacingAndGlyphs" stroke="#5fae55" stroke-width="0.22">6</text>
<text x="223.92" y="309.30" font-size="6.6" fill="#5fae55" text-anchor="middle" font-weight="normal" textLength="3.3" lengthAdjust="spacingAndGlyphs" stroke="#5fae55" stroke-width="0.22">6</text>
<text x="250.78" y="309.30" font-size="6.6" fill="#5fae55" text-anchor="middle" font-weight="normal" textLength="3.3" lengthAdjust="spacingAndGlyphs" stroke="#5fae55" stroke-width="0.22">6</text>
<text x="35.90" y="319.10" font-size="6.6" fill="#3d5f95" text-anchor="middle" font-weight="normal" textLength="6.6" lengthAdjust="spacingAndGlyphs" stroke="#3d5f95" stroke-width="0.22">35</text>
<text x="62.76" y="319.10" font-size="6.6" fill="#3d5f95" text-anchor="middle" font-weight="normal" textLength="6.6" lengthAdjust="spacingAndGlyphs" stroke="#3d5f95" stroke-width="0.22">29</text>
<text x="89.62" y="319.10" font-size="6.6" fill="#3d5f95" text-anchor="middle" font-weight="normal" textLength="6.6" lengthAdjust="spacingAndGlyphs" stroke="#3d5f95" stroke-width="0.22">24</text>
<text x="116.48" y="319.10" font-size="6.6" fill="#3d5f95" text-anchor="middle" font-weight="normal" textLength="6.6" lengthAdjust="spacingAndGlyphs" stroke="#3d5f95" stroke-width="0.22">18</text>
<text x="143.34" y="319.10" font-size="6.6" fill="#3d5f95" text-anchor="middle" font-weight="normal" textLength="3.3" lengthAdjust="spacingAndGlyphs" stroke="#3d5f95" stroke-width="0.22">5</text>
<text x="170.20" y="319.10" font-size="6.6" fill="#3d5f95" text-anchor="middle" font-weight="normal" textLength="3.3" lengthAdjust="spacingAndGlyphs" stroke="#3d5f95" stroke-width="0.22">3</text>
<text x="197.06" y="319.10" font-size="6.6" fill="#3d5f95" text-anchor="middle" font-weight="normal" textLength="3.3" lengthAdjust="spacingAndGlyphs" stroke="#3d5f95" stroke-width="0.22">2</text>
<text x="223.92" y="319.10" font-size="6.6" fill="#3d5f95" text-anchor="middle" font-weight="normal" textLength="3.3" lengthAdjust="spacingAndGlyphs" stroke="#3d5f95" stroke-width="0.22">2</text>
<text x="250.78" y="319.10" font-size="6.6" fill="#3d5f95" text-anchor="middle" font-weight="normal" textLength="3.3" lengthAdjust="spacingAndGlyphs" stroke="#3d5f95" stroke-width="0.22">2</text>
<text x="35.90" y="329.10" font-size="6.6" fill="#c43a4e" text-anchor="middle" font-weight="normal" textLength="6.6" lengthAdjust="spacingAndGlyphs" stroke="#c43a4e" stroke-width="0.22">53</text>
<text x="62.76" y="329.10" font-size="6.6" fill="#c43a4e" text-anchor="middle" font-weight="normal" textLength="6.6" lengthAdjust="spacingAndGlyphs" stroke="#c43a4e" stroke-width="0.22">39</text>
<text x="89.62" y="329.10" font-size="6.6" fill="#c43a4e" text-anchor="middle" font-weight="normal" textLength="6.6" lengthAdjust="spacingAndGlyphs" stroke="#c43a4e" stroke-width="0.22">29</text>
<text x="116.48" y="329.10" font-size="6.6" fill="#c43a4e" text-anchor="middle" font-weight="normal" textLength="6.6" lengthAdjust="spacingAndGlyphs" stroke="#c43a4e" stroke-width="0.22">20</text>
<text x="143.34" y="329.10" font-size="6.6" fill="#c43a4e" text-anchor="middle" font-weight="normal" textLength="3.3" lengthAdjust="spacingAndGlyphs" stroke="#c43a4e" stroke-width="0.22">6</text>
<text x="170.20" y="329.10" font-size="6.6" fill="#c43a4e" text-anchor="middle" font-weight="normal" textLength="3.3" lengthAdjust="spacingAndGlyphs" stroke="#c43a4e" stroke-width="0.22">4</text>
<text x="197.06" y="329.10" font-size="6.6" fill="#c43a4e" text-anchor="middle" font-weight="normal" textLength="3.3" lengthAdjust="spacingAndGlyphs" stroke="#c43a4e" stroke-width="0.22">4</text>
<text x="223.92" y="329.10" font-size="6.6" fill="#c43a4e" text-anchor="middle" font-weight="normal" textLength="3.3" lengthAdjust="spacingAndGlyphs" stroke="#c43a4e" stroke-width="0.22">4</text>
<text x="250.78" y="329.10" font-size="6.6" fill="#c43a4e" text-anchor="middle" font-weight="normal" textLength="3.3" lengthAdjust="spacingAndGlyphs" stroke="#c43a4e" stroke-width="0.22">4</text>
<text x="266.50" y="192.40" font-size="11.3" fill="#111" text-anchor="start" font-weight="bold" stroke="#111" stroke-width="0.3">D</text>
<path d="M295.30,204.00V268.70M295.30,265.50H512.70" stroke="#2a2a2a" stroke-width="1.25" fill="none"/>
<path d="M292.60,265.50H295.30" stroke="#2a2a2a" stroke-width="1.1"/>
<text x="289.10" y="267.30" font-size="6.4" fill="#3a3a3a" text-anchor="end" font-weight="normal" textLength="3.2" lengthAdjust="spacingAndGlyphs" stroke="#3a3a3a" stroke-width="0.22">0</text>
<path d="M292.60,253.76H295.30" stroke="#2a2a2a" stroke-width="1.1"/>
<text x="289.10" y="255.56" font-size="6.4" fill="#3a3a3a" text-anchor="end" font-weight="normal" textLength="6.4" lengthAdjust="spacingAndGlyphs" stroke="#3a3a3a" stroke-width="0.22">20</text>
<path d="M292.60,242.02H295.30" stroke="#2a2a2a" stroke-width="1.1"/>
<text x="289.10" y="243.82" font-size="6.4" fill="#3a3a3a" text-anchor="end" font-weight="normal" textLength="6.4" lengthAdjust="spacingAndGlyphs" stroke="#3a3a3a" stroke-width="0.22">40</text>
<path d="M292.60,230.28H295.30" stroke="#2a2a2a" stroke-width="1.1"/>
<text x="289.10" y="232.08" font-size="6.4" fill="#3a3a3a" text-anchor="end" font-weight="normal" textLength="6.4" lengthAdjust="spacingAndGlyphs" stroke="#3a3a3a" stroke-width="0.22">60</text>
<path d="M292.60,218.54H295.30" stroke="#2a2a2a" stroke-width="1.1"/>
<text x="289.10" y="220.34" font-size="6.4" fill="#3a3a3a" text-anchor="end" font-weight="normal" textLength="6.4" lengthAdjust="spacingAndGlyphs" stroke="#3a3a3a" stroke-width="0.22">80</text>
<path d="M292.60,206.80H295.30" stroke="#2a2a2a" stroke-width="1.1"/>
<text x="289.10" y="208.60" font-size="6.4" fill="#3a3a3a" text-anchor="end" font-weight="normal" textLength="9.600000000000001" lengthAdjust="spacingAndGlyphs" stroke="#3a3a3a" stroke-width="0.22">100</text>
<path d="M295.30,265.50V268.70" stroke="#2a2a2a" stroke-width="1.1"/>
<text x="295.30" y="277.20" font-size="6.4" fill="#3a3a3a" text-anchor="middle" font-weight="normal" textLength="3.3" lengthAdjust="spacingAndGlyphs" stroke="#3a3a3a" stroke-width="0.22">0</text>
<path d="M322.10,265.50V268.70" stroke="#2a2a2a" stroke-width="1.1"/>
<text x="322.10" y="277.20" font-size="6.4" fill="#3a3a3a" text-anchor="middle" font-weight="normal" textLength="3.3" lengthAdjust="spacingAndGlyphs" stroke="#3a3a3a" stroke-width="0.22">3</text>
<path d="M348.90,265.50V268.70" stroke="#2a2a2a" stroke-width="1.1"/>
<text x="348.90" y="277.20" font-size="6.4" fill="#3a3a3a" text-anchor="middle" font-weight="normal" textLength="3.3" lengthAdjust="spacingAndGlyphs" stroke="#3a3a3a" stroke-width="0.22">6</text>
<path d="M375.70,265.50V268.70" stroke="#2a2a2a" stroke-width="1.1"/>
<text x="375.70" y="277.20" font-size="6.4" fill="#3a3a3a" text-anchor="middle" font-weight="normal" textLength="3.3" lengthAdjust="spacingAndGlyphs" stroke="#3a3a3a" stroke-width="0.22">9</text>
<path d="M402.50,265.50V268.70" stroke="#2a2a2a" stroke-width="1.1"/>
<text x="402.50" y="277.20" font-size="6.4" fill="#3a3a3a" text-anchor="middle" font-weight="normal" textLength="6.6" lengthAdjust="spacingAndGlyphs" stroke="#3a3a3a" stroke-width="0.22">12</text>
<path d="M429.30,265.50V268.70" stroke="#2a2a2a" stroke-width="1.1"/>
<text x="429.30" y="277.20" font-size="6.4" fill="#3a3a3a" text-anchor="middle" font-weight="normal" textLength="6.6" lengthAdjust="spacingAndGlyphs" stroke="#3a3a3a" stroke-width="0.22">15</text>
<path d="M456.10,265.50V268.70" stroke="#2a2a2a" stroke-width="1.1"/>
<text x="456.10" y="277.20" font-size="6.4" fill="#3a3a3a" text-anchor="middle" font-weight="normal" textLength="6.6" lengthAdjust="spacingAndGlyphs" stroke="#3a3a3a" stroke-width="0.22">18</text>
<path d="M482.90,265.50V268.70" stroke="#2a2a2a" stroke-width="1.1"/>
<text x="482.90" y="277.20" font-size="6.4" fill="#3a3a3a" text-anchor="middle" font-weight="normal" textLength="6.6" lengthAdjust="spacingAndGlyphs" stroke="#3a3a3a" stroke-width="0.22">21</text>
<path d="M509.70,265.50V268.70" stroke="#2a2a2a" stroke-width="1.1"/>
<text x="509.70" y="277.20" font-size="6.4" fill="#3a3a3a" text-anchor="middle" font-weight="normal" textLength="6.6" lengthAdjust="spacingAndGlyphs" stroke="#3a3a3a" stroke-width="0.22">24</text>
<text x="404.35" y="288.90" font-size="8.9" fill="#3a3a3a" text-anchor="middle" font-weight="normal" textLength="43.099999999999966" lengthAdjust="spacingAndGlyphs" stroke="#3a3a3a" stroke-width="0.22">Time (months)</text>
<text transform="translate(273.90,234.30) rotate(-90)" x="0" y="0" font-size="8.8" fill="#3a3a3a" stroke="#3a3a3a" stroke-width="0.22" text-anchor="middle" textLength="27.9" lengthAdjust="spacingAndGlyphs">DOCR (%)</text>
<path d="M371.30,186.00H379.80" stroke="#32a034" stroke-width="1.2"/>
<path d="M376.57,184.60V186.30" stroke="#32a034" stroke-width="0.9"/>
<text x="382.90" y="187.80" font-size="6.5" fill="#3a3a3a" text-anchor="start" font-weight="normal" textLength="86.3" lengthAdjust="spacingAndGlyphs" stroke="#3a3a3a" stroke-width="0.08">Complete responders (n = 63)</text>
<path d="M371.30,195.90H379.80" stroke="#264470" stroke-width="1.2"/>
<path d="M376.57,194.50V196.20" stroke="#264470" stroke-width="0.9"/>
<text x="382.90" y="197.70" font-size="6.5" fill="#3a3a3a" text-anchor="start" font-weight="normal" textLength="122.3" lengthAdjust="spacingAndGlyphs" stroke="#3a3a3a" stroke-width="0.08">Complete responders with 1 pLOT (n = 29)</text>
<path d="M371.30,205.90H379.80" stroke="#bc1832" stroke-width="1.2"/>
<path d="M376.57,204.50V206.20" stroke="#bc1832" stroke-width="0.9"/>
<text x="382.90" y="207.70" font-size="6.5" fill="#3a3a3a" text-anchor="start" font-weight="normal" textLength="126.9" lengthAdjust="spacingAndGlyphs" stroke="#3a3a3a" stroke-width="0.08">Complete responders with ≥2 pLOT (n = 34)</text>
<path d="M295.30,206.70H301.50V207.70H305.30V209.00H314.50V210.00H322.00V211.50H333.00V213.50H343.80V216.20H364.00V218.20H369.60V221.90H383.50V225.00H399.60V228.80H413.50V232.40H506.10V239.40H510.20" fill="none" stroke="#32a034" stroke-width="1.5" stroke-linejoin="miter"/>
<path d="M420.00,230.80V232.70" stroke="#32a034" stroke-width="0.9"/>
<path d="M428.00,230.80V232.70" stroke="#32a034" stroke-width="0.9"/>
<path d="M295.30,206.70H301.50V207.00H332.70V209.20H343.80V211.30H370.60V215.20H383.50V219.90H399.60V228.90H506.10V265.20H506.10" fill="none" stroke="#264470" stroke-width="1.5" stroke-linejoin="miter"/>
<path d="M311.00,205.40V207.30" stroke="#264470" stroke-width="0.9"/>
<path d="M318.00,205.40V207.30" stroke="#264470" stroke-width="0.9"/>
<path d="M323.00,205.40V207.30" stroke="#264470" stroke-width="0.9"/>
<path d="M359.00,209.70V211.60" stroke="#264470" stroke-width="0.9"/>
<path d="M363.00,209.70V211.60" stroke="#264470" stroke-width="0.9"/>
<path d="M402.00,227.30V229.20" stroke="#264470" stroke-width="0.9"/>
<path d="M404.00,227.30V229.20" stroke="#264470" stroke-width="0.9"/>
<path d="M295.30,206.70H301.50V208.50H305.30V211.50H314.50V213.50H321.50V215.80H338.40V218.20H343.80V220.00H361.50V223.00H365.30V226.20H369.20V228.90H413.50V235.00H510.20" fill="none" stroke="#bc1832" stroke-width="1.5" stroke-linejoin="miter"/>
<path d="M383.00,227.30V229.20" stroke="#bc1832" stroke-width="0.9"/>
<path d="M406.00,227.30V229.20" stroke="#bc1832" stroke-width="0.9"/>
<text x="295.00" y="299.00" font-size="6.6" fill="#3a3a3a" text-anchor="start" font-weight="normal" textLength="41.60000000000002" lengthAdjust="spacingAndGlyphs" stroke="#3a3a3a" stroke-width="0.22">Number at risk</text>
<text x="295.30" y="309.30" font-size="6.6" fill="#5fae55" text-anchor="middle" font-weight="normal" textLength="6.6" lengthAdjust="spacingAndGlyphs" stroke="#5fae55" stroke-width="0.22">63</text>
<text x="322.10" y="309.30" font-size="6.6" fill="#5fae55" text-anchor="middle" font-weight="normal" textLength="6.6" lengthAdjust="spacingAndGlyphs" stroke="#5fae55" stroke-width="0.22">52</text>
<text x="348.90" y="309.30" font-size="6.6" fill="#5fae55" text-anchor="middle" font-weight="normal" textLength="6.6" lengthAdjust="spacingAndGlyphs" stroke="#5fae55" stroke-width="0.22">43</text>
<text x="375.70" y="309.30" font-size="6.6" fill="#5fae55" text-anchor="middle" font-weight="normal" textLength="6.6" lengthAdjust="spacingAndGlyphs" stroke="#5fae55" stroke-width="0.22">25</text>
<text x="402.50" y="309.30" font-size="6.6" fill="#5fae55" text-anchor="middle" font-weight="normal" textLength="6.6" lengthAdjust="spacingAndGlyphs" stroke="#5fae55" stroke-width="0.22">10</text>
<text x="429.30" y="309.30" font-size="6.6" fill="#5fae55" text-anchor="middle" font-weight="normal" textLength="3.3" lengthAdjust="spacingAndGlyphs" stroke="#5fae55" stroke-width="0.22">5</text>
<text x="456.10" y="309.30" font-size="6.6" fill="#5fae55" text-anchor="middle" font-weight="normal" textLength="3.3" lengthAdjust="spacingAndGlyphs" stroke="#5fae55" stroke-width="0.22">5</text>
<text x="482.90" y="309.30" font-size="6.6" fill="#5fae55" text-anchor="middle" font-weight="normal" textLength="3.3" lengthAdjust="spacingAndGlyphs" stroke="#5fae55" stroke-width="0.22">5</text>
<text x="509.70" y="309.30" font-size="6.6" fill="#5fae55" text-anchor="middle" font-weight="normal" textLength="3.3" lengthAdjust="spacingAndGlyphs" stroke="#5fae55" stroke-width="0.22">4</text>
<text x="295.30" y="319.10" font-size="6.6" fill="#3d5f95" text-anchor="middle" font-weight="normal" textLength="6.6" lengthAdjust="spacingAndGlyphs" stroke="#3d5f95" stroke-width="0.22">29</text>
<text x="322.10" y="319.10" font-size="6.6" fill="#3d5f95" text-anchor="middle" font-weight="normal" textLength="6.6" lengthAdjust="spacingAndGlyphs" stroke="#3d5f95" stroke-width="0.22">26</text>
<text x="348.90" y="319.10" font-size="6.6" fill="#3d5f95" text-anchor="middle" font-weight="normal" textLength="6.6" lengthAdjust="spacingAndGlyphs" stroke="#3d5f95" stroke-width="0.22">22</text>
<text x="375.70" y="319.10" font-size="6.6" fill="#3d5f95" text-anchor="middle" font-weight="normal" textLength="6.6" lengthAdjust="spacingAndGlyphs" stroke="#3d5f95" stroke-width="0.22">14</text>
<text x="402.50" y="319.10" font-size="6.6" fill="#3d5f95" text-anchor="middle" font-weight="normal" textLength="3.3" lengthAdjust="spacingAndGlyphs" stroke="#3d5f95" stroke-width="0.22">4</text>
<text x="429.30" y="319.10" font-size="6.6" fill="#2d3e5c" text-anchor="middle" font-weight="normal" textLength="3.3" lengthAdjust="spacingAndGlyphs" stroke="#2d3e5c" stroke-width="0.22">1</text>
<text x="456.10" y="319.10" font-size="6.6" fill="#2d3e5c" text-anchor="middle" font-weight="normal" textLength="3.3" lengthAdjust="spacingAndGlyphs" stroke="#2d3e5c" stroke-width="0.22">1</text>
<text x="482.90" y="319.10" font-size="6.6" fill="#2d3e5c" text-anchor="middle" font-weight="normal" textLength="3.3" lengthAdjust="spacingAndGlyphs" stroke="#2d3e5c" stroke-width="0.22">1</text>
<text x="509.70" y="319.10" font-size="6.6" fill="#3d5f95" text-anchor="middle" font-weight="normal" textLength="3.3" lengthAdjust="spacingAndGlyphs" stroke="#3d5f95" stroke-width="0.22">0</text>
<text x="295.30" y="329.10" font-size="6.6" fill="#c43a4e" text-anchor="middle" font-weight="normal" textLength="6.6" lengthAdjust="spacingAndGlyphs" stroke="#c43a4e" stroke-width="0.22">34</text>
<text x="322.10" y="329.10" font-size="6.6" fill="#c43a4e" text-anchor="middle" font-weight="normal" textLength="6.6" lengthAdjust="spacingAndGlyphs" stroke="#c43a4e" stroke-width="0.22">26</text>
<text x="348.90" y="329.10" font-size="6.6" fill="#c43a4e" text-anchor="middle" font-weight="normal" textLength="6.6" lengthAdjust="spacingAndGlyphs" stroke="#c43a4e" stroke-width="0.22">21</text>
<text x="375.70" y="329.10" font-size="6.6" fill="#c43a4e" text-anchor="middle" font-weight="normal" textLength="6.6" lengthAdjust="spacingAndGlyphs" stroke="#c43a4e" stroke-width="0.22">11</text>
<text x="402.50" y="329.10" font-size="6.6" fill="#c43a4e" text-anchor="middle" font-weight="normal" textLength="3.3" lengthAdjust="spacingAndGlyphs" stroke="#c43a4e" stroke-width="0.22">6</text>
<text x="429.30" y="329.10" font-size="6.6" fill="#c43a4e" text-anchor="middle" font-weight="normal" textLength="3.3" lengthAdjust="spacingAndGlyphs" stroke="#c43a4e" stroke-width="0.22">4</text>
<text x="456.10" y="329.10" font-size="6.6" fill="#c43a4e" text-anchor="middle" font-weight="normal" textLength="3.3" lengthAdjust="spacingAndGlyphs" stroke="#c43a4e" stroke-width="0.22">4</text>
<text x="482.90" y="329.10" font-size="6.6" fill="#c43a4e" text-anchor="middle" font-weight="normal" textLength="3.3" lengthAdjust="spacingAndGlyphs" stroke="#c43a4e" stroke-width="0.22">4</text>
<text x="509.70" y="329.10" font-size="6.6" fill="#c43a4e" text-anchor="middle" font-weight="normal" textLength="3.3" lengthAdjust="spacingAndGlyphs" stroke="#c43a4e" stroke-width="0.22">4</text>
<path d="M0,0H520V1H0Z M0,336H520V337H0Z M0,0H1V337H0Z M519,0H520V337H519Z" fill="#5a5a5a"/>
</svg></body></html>
